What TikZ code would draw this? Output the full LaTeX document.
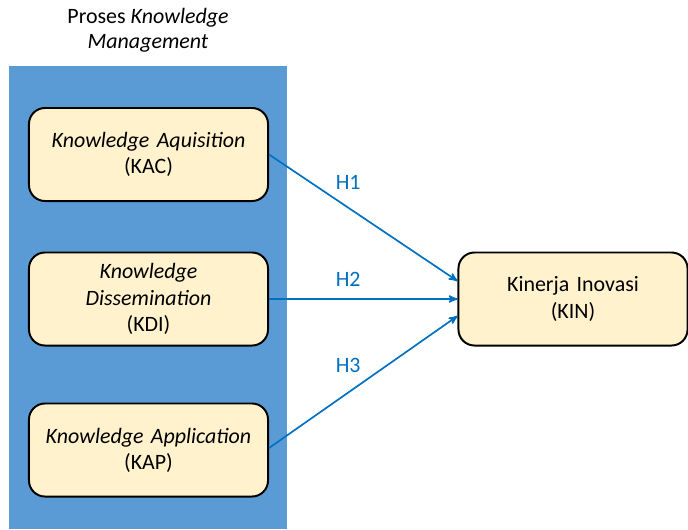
\documentclass[tikz,border=0pt]{standalone}
\usepackage{fontspec}
\setmainfont{Carlito}
\usepackage{tikz}
\usetikzlibrary{arrows, positioning}
\definecolor{kmblue}{HTML}{5B9BD5}
\definecolor{boxfill}{HTML}{FFF2CC}
\definecolor{linkblue}{HTML}{0070C0}
\tikzstyle{dimension} = [rectangle, rounded corners=0.4cm, minimum width=5.975cm, minimum height=2.325cm, text width=5.6cm, align=center, draw=black, line width=1.4pt, fill=boxfill, font=\fontsize{15.6}{18.6}\selectfont]
\tikzstyle{outcome} = [dimension, minimum width=5.725cm, text width=5.3cm]
\tikzstyle{arrow} = [draw=linkblue, line width=1.2pt, ->, >=stealth']
\tikzstyle{hyp} = [text=linkblue, font=\fontsize{15.6}{18.6}\selectfont]

\begin{document}
\begin{tikzpicture}[x=0.025cm, y=-0.025cm]
		\useasboundingbox (0,0) rectangle (688,529);
		
		% Group panel
		\fill [kmblue] (9,66) rectangle (287,529);
		\node (title) [font=\fontsize{15.6}{17.5}\selectfont, align=center] at (148,30) {Proses \textit{Knowledge}\\\textit{Management}};
		
		% Nodes
		\node (kac) [dimension] at (148.5,154.5) {\textit{Knowledge Aquisition}\\(KAC)};
		\node (kdi) [dimension] at (148.5,299) {\textit{Knowledge}\\\textit{Dissemination}\\(KDI)};
		\node (kap) [dimension] at (148.5,450) {\textit{Knowledge Application}\\(KAP)};
		\node (kin) [outcome] at (573,299) {Kinerja Inovasi\\(KIN)};
		
		% Arrows
		\draw [arrow] (kac.east) -- node[hyp, pos=0.42, yshift=0.625cm] {H1} ([yshift=0.45cm]kin.west);
		\draw [arrow] (kdi.east) -- node[hyp, pos=0.42, yshift=0.5cm] {H2} (kin.west);
		\draw [arrow] ([yshift=0.05cm]kap.east) -- node[hyp, pos=0.42, yshift=0.675cm] {H3} ([yshift=-0.425cm]kin.west);
		
	\end{tikzpicture}
\end{document}
